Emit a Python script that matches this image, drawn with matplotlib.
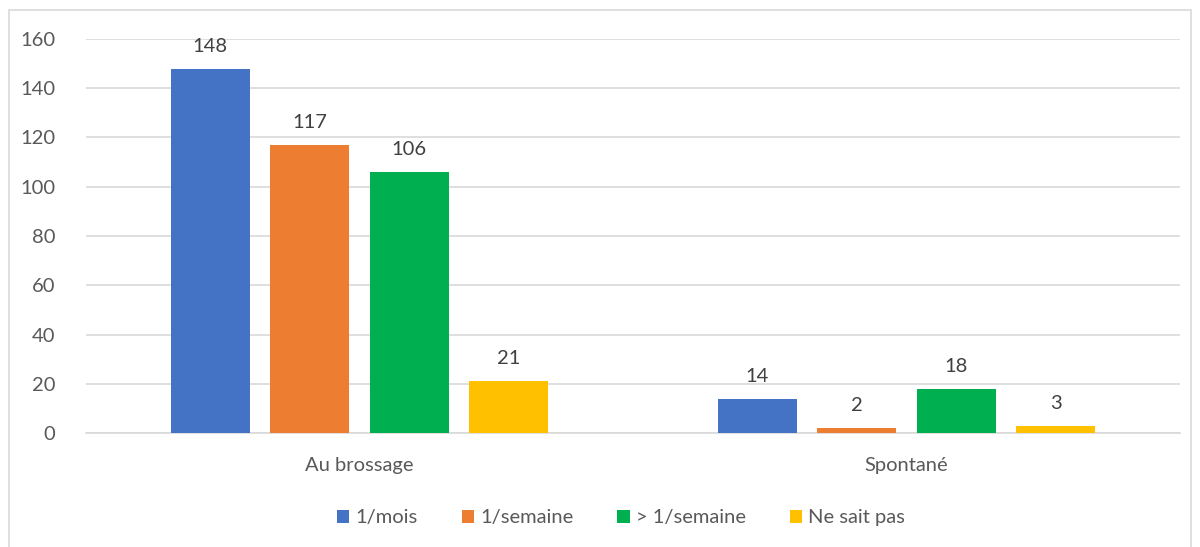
import matplotlib
matplotlib.use("Agg")
import matplotlib.pyplot as plt
import numpy as np
from matplotlib.patches import Rectangle

categories = ["Au brossage", "Spontané"]
series_names = ["1/mois", "1/semaine", "> 1/semaine", "Ne sait pas"]
values_1_mois = [148, 14]
values_1_semaine = [117, 2]
values_plus_1_semaine = [106, 18]
values_ne_sait_pas = [21, 3]
yticks = [0, 20, 40, 60, 80, 100, 120, 140, 160]

series = [values_1_mois, values_1_semaine, values_plus_1_semaine, values_ne_sait_pas]
colors = ["#4472C4", "#ED7D31", "#00B050", "#FFC000"]

plt.rcParams['font.family'] = ['Lato', 'DejaVu Sans']
FS = 14.5

fig = plt.figure(figsize=(12, 5.47), dpi=100)
ax = fig.add_axes([86/1200, 1-433/547, (1180-86)/1200, (433-39)/547])

x = np.arange(len(categories))
step = 0.182
width = 0.145
for i, (vals, col, name) in enumerate(zip(series, colors, series_names)):
    pos = x + (i - 1.5) * step
    bars = ax.bar(pos, vals, width=width, color=col, label=name, zorder=3)
    for b, v in zip(bars, vals):
        ax.annotate(str(v), (b.get_x() + b.get_width()/2, v), xytext=(0, 10),
                    textcoords="offset points", ha="center", va="bottom",
                    fontsize=FS, color="#404040")

ax.set_xlim(-0.5, 1.5)
ax.set_ylim(0, 160)
ax.set_yticks(yticks)
ax.set_xticks(x)
ax.set_xticklabels(categories)
ax.tick_params(axis='both', length=0, labelsize=FS, colors="#595959")
ax.tick_params(axis='y', pad=22)
ax.tick_params(axis='x', pad=17)
ax.grid(axis='y', color="#D9D9D9", linewidth=1.2, zorder=0)
for s in ["top", "right", "left"]:
    ax.spines[s].set_visible(False)
ax.spines["bottom"].set_color("#D9D9D9")
ax.spines["bottom"].set_linewidth(1.2)

leg = fig.legend(loc="center", bbox_to_anchor=(621/1200, 1-518/547), ncol=4,
                 frameon=False, fontsize=FS, handlelength=0.6, handleheight=0.6,
                 handletextpad=0.3, columnspacing=2.2, labelcolor="#595959")

fig.patches.append(Rectangle((9/1200, -0.05), (1191-9)/1200, 1.05 - 10/547,
                             transform=fig.transFigure, fill=False,
                             edgecolor="#D9D9D9", linewidth=1.2))

fig.savefig("out.png", dpi=100)
